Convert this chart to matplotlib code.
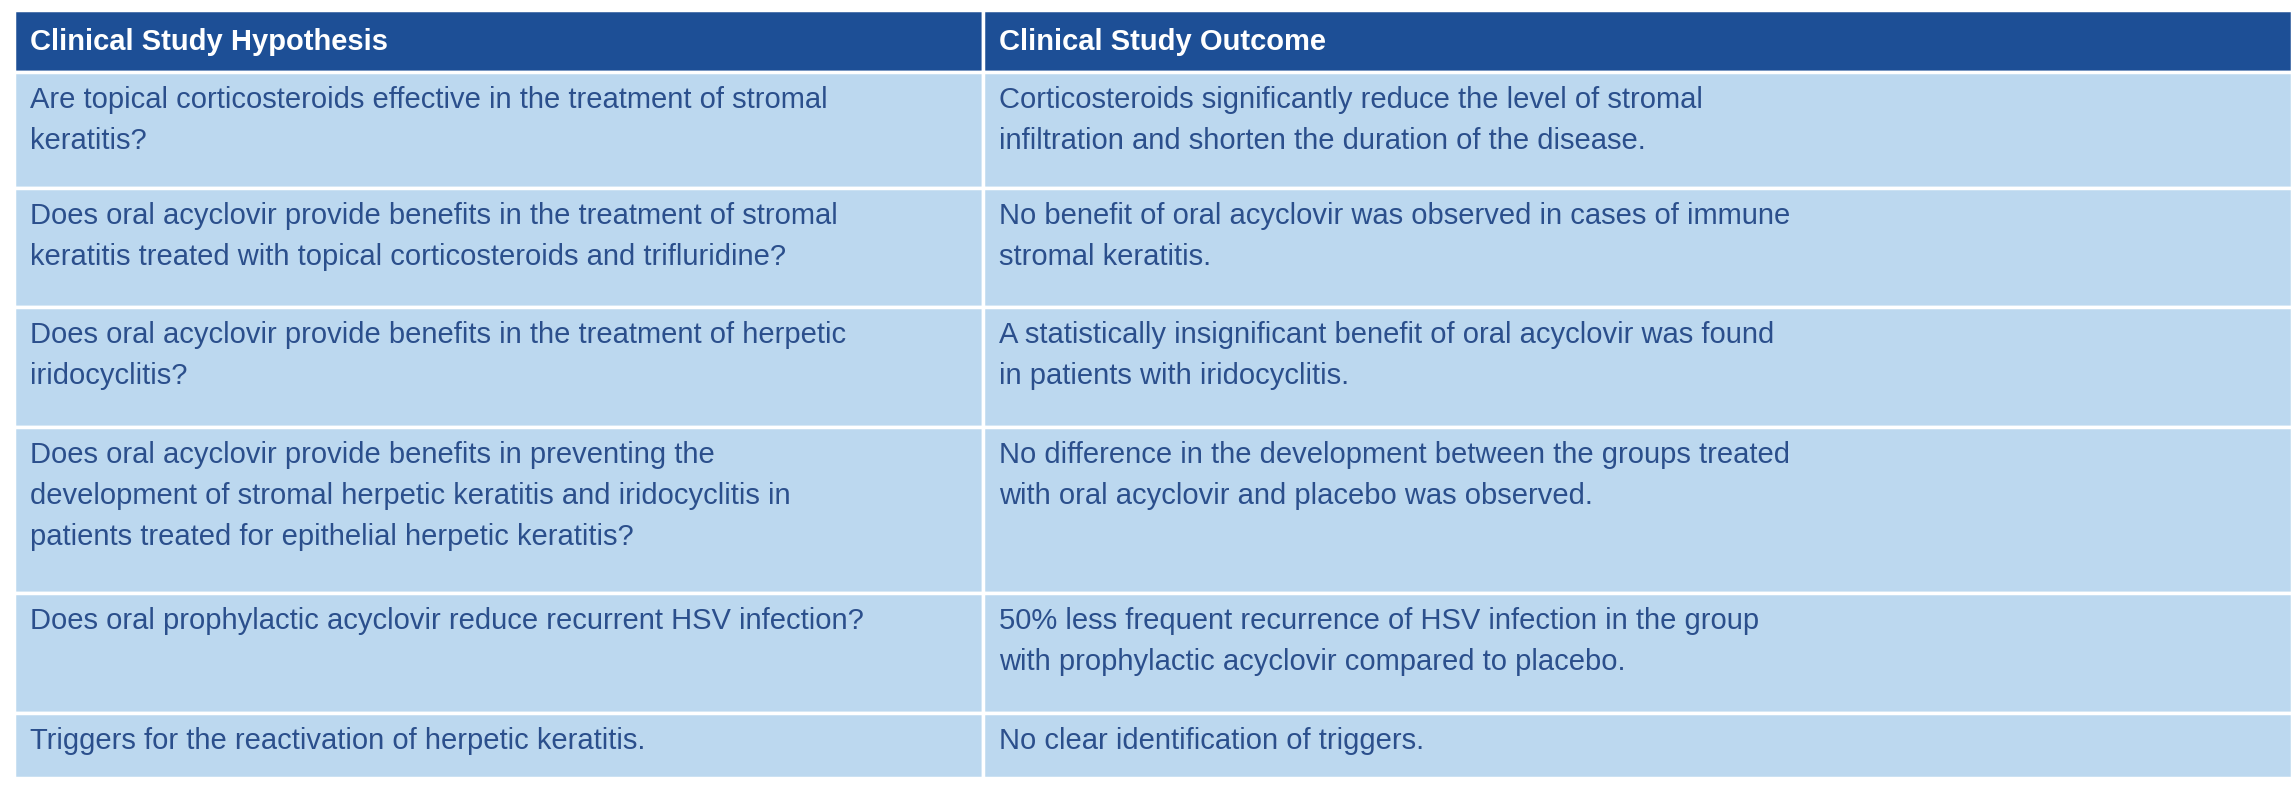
import matplotlib
matplotlib.use("Agg")
import matplotlib.pyplot as plt
from matplotlib.patches import Rectangle

headers = ["Clinical Study Hypothesis", "Clinical Study Outcome"]
hypotheses = [
    "Are topical corticosteroids effective in the treatment of stromal\nkeratitis?",
    "Does oral acyclovir provide benefits in the treatment of stromal\nkeratitis treated with topical corticosteroids and trifluridine?",
    "Does oral acyclovir provide benefits in the treatment of herpetic\niridocyclitis?",
    "Does oral acyclovir provide benefits in preventing the\ndevelopment of stromal herpetic keratitis and iridocyclitis in\npatients treated for epithelial herpetic keratitis?",
    "Does oral prophylactic acyclovir reduce recurrent HSV infection?",
    "Triggers for the reactivation of herpetic keratitis.",
]
outcomes = [
    "Corticosteroids significantly reduce the level of stromal\ninfiltration and shorten the duration of the disease.",
    "No benefit of oral acyclovir was observed in cases of immune\nstromal keratitis.",
    "A statistically insignificant benefit of oral acyclovir was found\nin patients with iridocyclitis.",
    "No difference in the development between the groups treated\nwith oral acyclovir and placebo was observed.",
    "50% less frequent recurrence of HSV infection in the group\nwith prophylactic acyclovir compared to placebo.",
    "No clear identification of triggers.",
]
row_edges = [10, 72, 188, 307, 427, 593, 713, 778]
col_edges = [14, 983, 2292]

W, H = 2292, 800
fig = plt.figure(figsize=(22.92, 8), dpi=100)
ax = fig.add_axes([0, 0, 1, 1])
ax.set_xlim(0, W); ax.set_ylim(H, 0); ax.axis("off")

hdr_bg = "#1d4f96"; cell_bg = "#bcd8ef"; txt = "#2b4f8c"
fam = ["Liberation Sans", "DejaVu Sans"]
fs = 21
for i in range(len(row_edges) - 1):
    y0, y1 = row_edges[i], row_edges[i + 1]
    for j in range(2):
        x0, x1 = col_edges[j], col_edges[j + 1]
        ax.add_patch(Rectangle((x0, y0), x1 - x0, y1 - y0,
                               facecolor=hdr_bg if i == 0 else cell_bg,
                               edgecolor="white", linewidth=2.5))
        if i == 0:
            ax.text(x0 + 16, (y0 + y1) / 2 + 1, headers[j], color="white", fontsize=fs,
                    fontweight="bold", family=fam, va="center", ha="left")
        else:
            s = (hypotheses if j == 0 else outcomes)[i - 1]
            ax.text(x0 + 16, y0 + 14, s, color=txt, fontsize=fs, family=fam,
                    va="top", ha="left", linespacing=1.6)
fig.savefig("out.png", dpi=100, facecolor="white")
